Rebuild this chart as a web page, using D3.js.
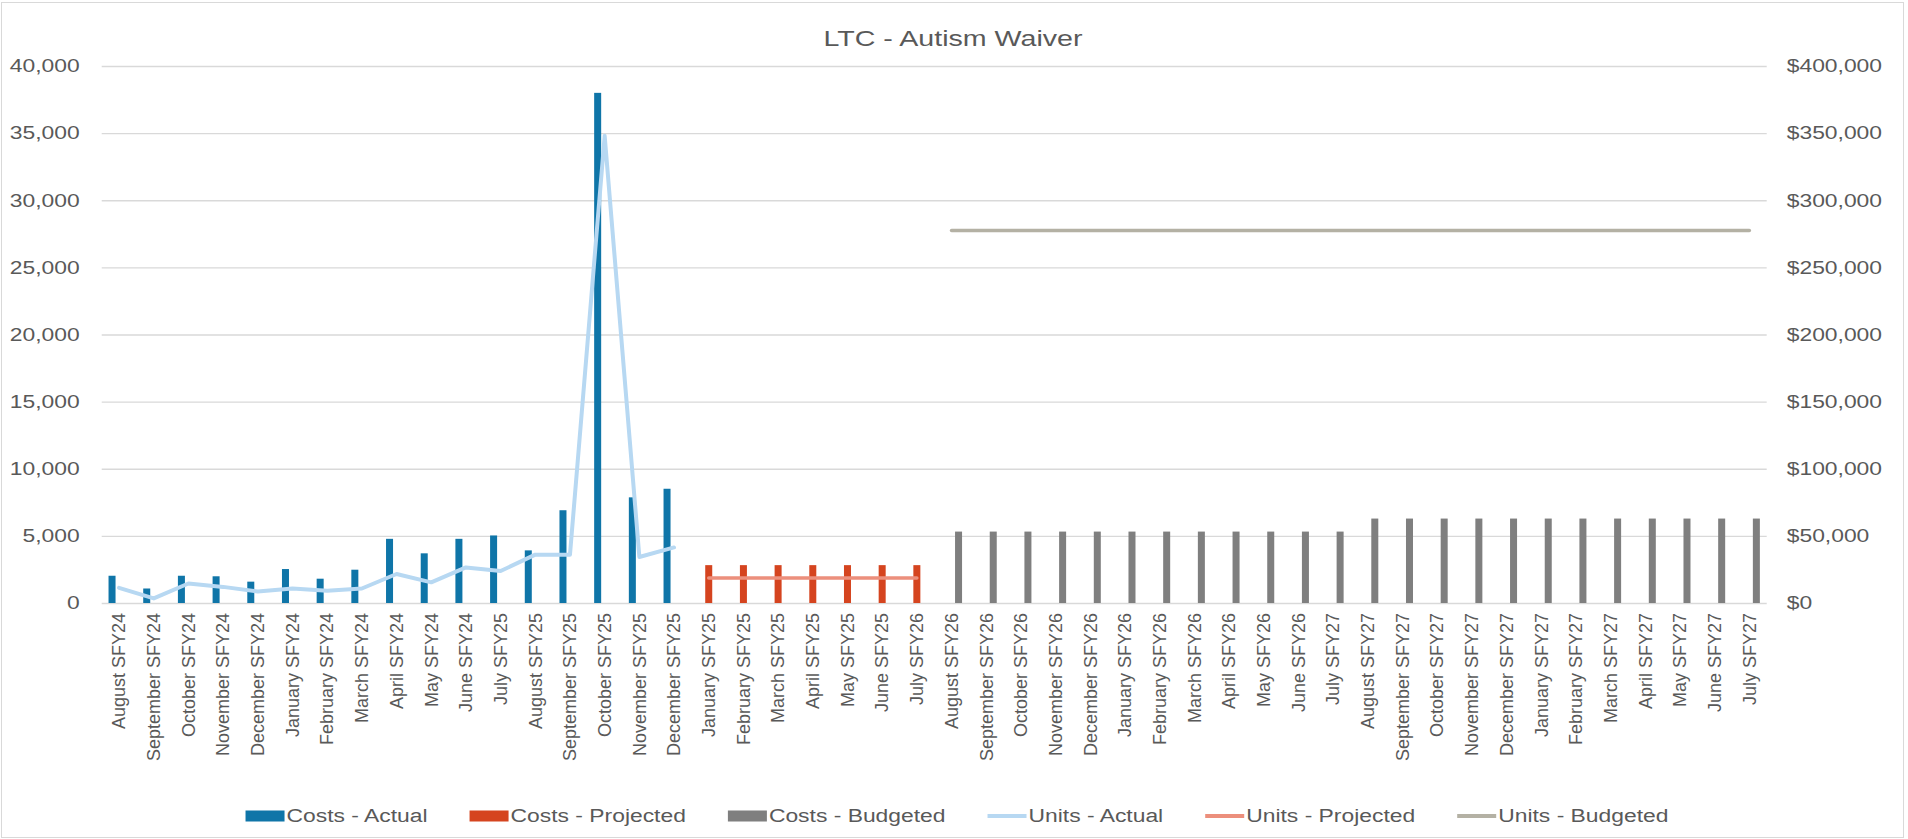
<!DOCTYPE html>
<html>
<head>
<meta charset="utf-8">
<script src="https://cdn.jsdelivr.net/npm/d3@7"></script>
<style>
  body { margin: 0; background: #fff; }
  svg { display: block; }
</style>
</head>
<body>
<svg id="chart" width="1908" height="839"></svg>
<script>
// Categories (note: "July SFY27" shows up twice in the source, so the scale uses indices)
const months = [
    "August SFY24", "September SFY24", "October SFY24", "November SFY24", "December SFY24",
    "January SFY24", "February SFY24", "March SFY24", "April SFY24", "May SFY24", "June SFY24",
    "July SFY25", "August SFY25", "September SFY25", "October SFY25", "November SFY25", "December SFY25",
    "January SFY25", "February SFY25", "March SFY25", "April SFY25", "May SFY25", "June SFY25",
    "July SFY26", "August SFY26", "September SFY26", "October SFY26", "November SFY26", "December SFY26",
    "January SFY26", "February SFY26", "March SFY26", "April SFY26", "May SFY26", "June SFY26",
    "July SFY27", "August SFY27", "September SFY27", "October SFY27", "November SFY27", "December SFY27",
    "January SFY27", "February SFY27", "March SFY27", "April SFY27", "May SFY27", "June SFY27",
    "July SFY27"
];

// Costs ($, right axis)
const costsActual = [20300, 10800, 20300, 19900, 15900, 25300, 18100, 24800, 47800, 37000, 47800,
    50300, 39200, 69100, 380000, 78700, 85100];
const costsProjected = [28200, 28200, 28200, 28200, 28200, 28200, 28200];
const costsBudgeted = [53200, 53200, 53200, 53200, 53200, 53200, 53200, 53200, 53200, 53200, 53200, 53200,
    62900, 62900, 62900, 62900, 62900, 62900, 62900, 62900, 62900, 62900, 62900, 62900];

// Units (left axis)
const unitsActual = [1130, 340, 1450, 1200, 860, 1080, 910, 1080, 2160, 1540, 2650,
    2380, 3600, 3600, 34800, 3430, 4140];
const unitsProjected = [1860, 1860, 1860, 1860, 1860, 1860, 1860];
const unitsBudgeted = [27750, 27750, 27750, 27750, 27750, 27750, 27750, 27750, 27750, 27750, 27750, 27750,
    27750, 27750, 27750, 27750, 27750, 27750, 27750, 27750, 27750, 27750, 27750, 27750];

// where each series starts on the month axis
const actualStart = 0, projectedStart = 17, budgetedStart = 24;

const unitTicks = [0, 5000, 10000, 15000, 20000, 25000, 30000, 35000, 40000];
const costTicks = [0, 50000, 100000, 150000, 200000, 250000, 300000, 350000, 400000];

const colors = {
    costsActual: '#0F75A8',
    costsProjected: '#D5441F',
    costsBudgeted: '#7F7F7F',
    unitsActual: '#B7D8F2',
    unitsProjected: '#EC8F7C',
    unitsBudgeted: '#B4B1A4'
};

const font_family = '"Liberation Sans", Arial, sans-serif';
const font_color = '#595959';
const stretchK = 1.27; // source text is drawn wide

const width = 1908, height = 839;
const plot = { left: 101.7, right: 1766.7, top: 66, bottom: 603 };

const svg = d3.select('#chart');

// helper: widen horizontal text like the source image, returns new width
function stretch(sel, k) {
    let last = 0;
    sel.each(function () {
        const w = this.getComputedTextLength() * k;
        d3.select(this).attr('textLength', w).attr('lengthAdjust', 'spacingAndGlyphs');
        last = w;
    });
    return last;
}

// Border
svg.append('rect')
    .attr('x', 1.5).attr('y', 2.5)
    .attr('width', 1902).attr('height', 835)
    .attr('fill', '#fff')
    .attr('stroke', '#D9D9D9');

// Scales
const xScale = d3.scaleBand()
    .domain(d3.range(months.length))
    .range([plot.left, plot.right]);

const yUnits = d3.scaleLinear().domain([0, 40000]).range([plot.bottom, plot.top]);
const yCosts = d3.scaleLinear().domain([0, 400000]).range([plot.bottom, plot.top]);

const band = xScale.bandwidth();
const barW = band / 4.95;
const cx = i => xScale(i) + band / 2;

// Gridlines + left axis
const leftAxis = svg.append('g')
    .attr('transform', `translate(${plot.left},0)`)
    .call(d3.axisLeft(yUnits).tickValues(unitTicks).tickSize(-(plot.right - plot.left))
        .tickPadding(22).tickFormat(d3.format(',')));
leftAxis.select('.domain').remove();
leftAxis.selectAll('line').attr('stroke', '#D9D9D9').attr('stroke-width', 1.3);
leftAxis.selectAll('text')
    .attr('fill', font_color)
    .style('font-family', font_family)
    .style('font-size', '18px');
stretch(leftAxis.selectAll('text'), stretchK);

// Right axis (labels only)
const rightAxis = svg.append('g')
    .attr('transform', `translate(${plot.right},0)`)
    .call(d3.axisRight(yCosts).tickValues(costTicks).tickSize(0)
        .tickPadding(20).tickFormat(d => '$' + d3.format(',')(d)));
rightAxis.select('.domain').remove();
rightAxis.selectAll('text')
    .attr('fill', font_color)
    .style('font-family', font_family)
    .style('font-size', '18px');
stretch(rightAxis.selectAll('text'), stretchK);

// Bottom axis with rotated month labels
const bottomAxis = svg.append('g')
    .attr('transform', `translate(0,${plot.bottom})`)
    .call(d3.axisBottom(xScale).tickSize(0).tickFormat(i => months[i]));
bottomAxis.select('.domain').remove();
bottomAxis.selectAll('text')
    .attr('transform', 'rotate(-90)')
    .attr('x', -10)
    .attr('y', 0)
    .attr('dy', '0.35em')
    .attr('text-anchor', 'end')
    .attr('fill', font_color)
    .style('font-family', font_family)
    .style('font-size', '18px');

// Bars: three series per month, offset like a clustered column chart
function drawBars(values, start, offset, color) {
    svg.append('g')
        .selectAll('rect')
        .data(values)
        .join('rect')
        .attr('x', (d, i) => cx(start + i) + offset * barW - barW / 2)
        .attr('y', d => yCosts(d))
        .attr('width', barW)
        .attr('height', d => plot.bottom - yCosts(d))
        .attr('fill', color);
}

drawBars(costsActual, actualStart, -1, colors.costsActual);
drawBars(costsProjected, projectedStart, 0, colors.costsProjected);
drawBars(costsBudgeted, budgetedStart, 1, colors.costsBudgeted);

// Lines
function drawLine(values, start, color, w) {
    const line = d3.line()
        .x((d, i) => cx(start + i))
        .y(d => yUnits(d));
    svg.append('path')
        .datum(values)
        .attr('d', line)
        .attr('fill', 'none')
        .attr('stroke', color)
        .attr('stroke-width', w)
        .attr('stroke-linejoin', 'round')
        .attr('stroke-linecap', 'round');
}

drawLine(unitsActual, actualStart, colors.unitsActual, 4);
drawLine(unitsProjected, projectedStart, colors.unitsProjected, 3.5);
drawLine(unitsBudgeted, budgetedStart, colors.unitsBudgeted, 3.5);

// Title
const title = svg.append('text')
    .attr('x', 953)
    .attr('y', 46)
    .attr('text-anchor', 'middle')
    .attr('fill', font_color)
    .style('font-family', font_family)
    .style('font-size', '22px')
    .text('LTC - Autism Waiver');
stretch(title, 1.3);

// Legend
const legendItems = [
    { name: 'Costs - Actual', color: colors.costsActual, type: 'bar' },
    { name: 'Costs - Projected', color: colors.costsProjected, type: 'bar' },
    { name: 'Costs - Budgeted', color: colors.costsBudgeted, type: 'bar' },
    { name: 'Units - Actual', color: colors.unitsActual, type: 'line' },
    { name: 'Units - Projected', color: colors.unitsProjected, type: 'line' },
    { name: 'Units - Budgeted', color: colors.unitsBudgeted, type: 'line' }
];

const legendY = 816;
const swatchW = 39, itemGap = 42;
const legend = svg.append('g');
let lx = 0;
legendItems.forEach(item => {
    const g = legend.append('g').attr('transform', `translate(${lx},0)`);
    if (item.type === 'bar') {
        g.append('rect')
            .attr('x', 0).attr('y', legendY - 5.5)
            .attr('width', swatchW).attr('height', 11)
            .attr('fill', item.color);
    } else {
        g.append('line')
            .attr('x1', 0).attr('x2', swatchW)
            .attr('y1', legendY).attr('y2', legendY)
            .attr('stroke', item.color)
            .attr('stroke-width', 4);
    }
    const t = g.append('text')
        .attr('x', swatchW + 2)
        .attr('y', legendY)
        .attr('dy', '0.35em')
        .attr('fill', font_color)
        .style('font-family', font_family)
        .style('font-size', '18px')
        .text(item.name);
    const tw = stretch(t, stretchK);
    lx += swatchW + 2 + tw + itemGap;
});
const legendW = lx - itemGap;
legend.attr('transform', `translate(${957 - legendW / 2},0)`);
</script>
</body>
</html>
